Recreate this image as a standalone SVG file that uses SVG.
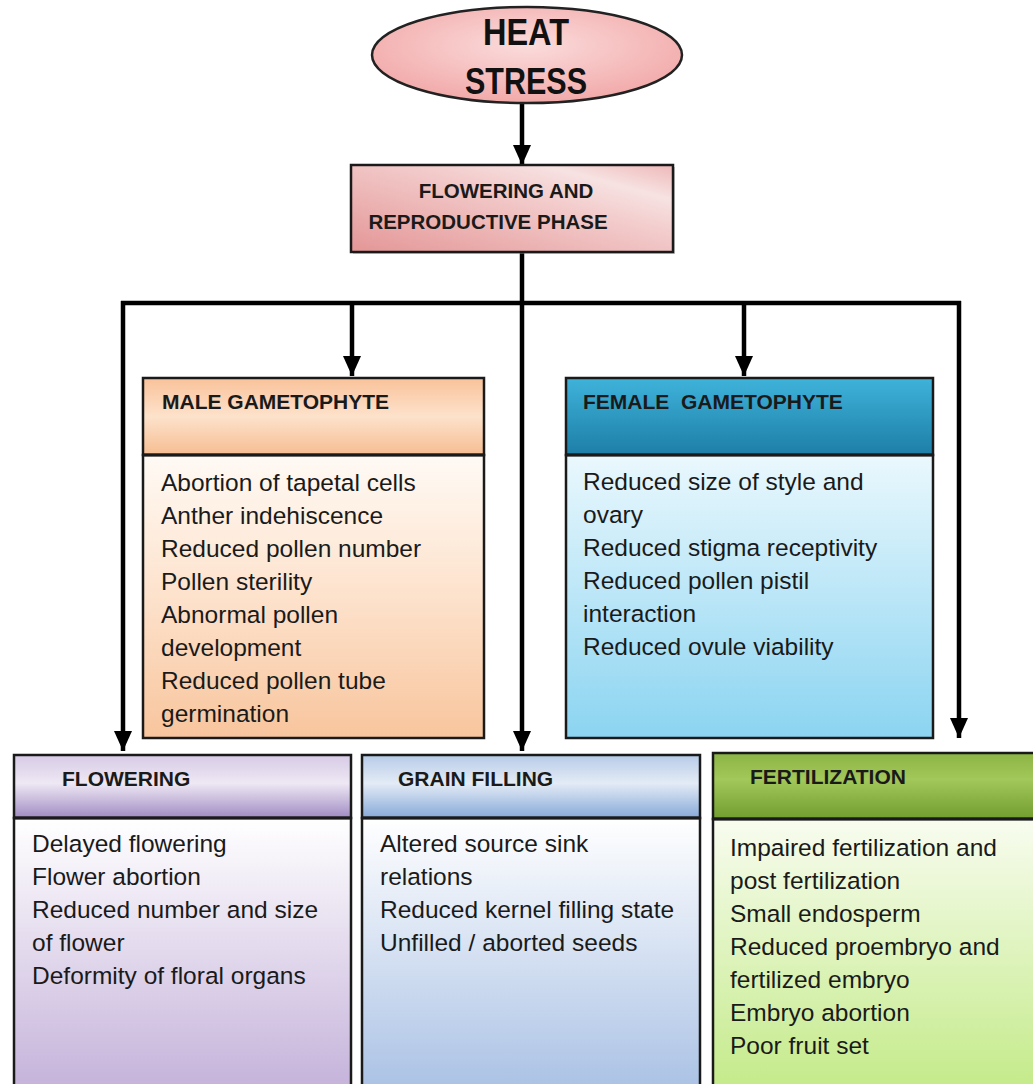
<svg xmlns="http://www.w3.org/2000/svg" width="1033" height="1084" viewBox="0 0 1033 1084">
<defs>
<style>
.box{stroke:#1a1a1a;stroke-width:2.5}
.div{stroke:#1a1a1a;stroke-width:3}
.hd{font-family:"Liberation Sans",Arial,sans-serif;font-weight:bold;font-size:21px;fill:#1a1a1a}
.ph{font-family:"Liberation Sans",Arial,sans-serif;font-weight:bold;font-size:20.5px;fill:#1a1a1a}
.bd{font-family:"Liberation Sans",Arial,sans-serif;font-size:24.5px;fill:#1a1a1a}
.big{font-family:"Liberation Sans",Arial,sans-serif;font-weight:bold;font-size:37px;fill:#111}
.con{stroke:#000;stroke-width:4.5;fill:none}
.arr{stroke:#000;stroke-width:4.5;fill:none;marker-end:url(#ah)}
</style>
<marker id="ah" markerUnits="userSpaceOnUse" markerWidth="20" markerHeight="18" refX="20" refY="9" orient="auto">
<path d="M0,0 L20,9 L0,18 z" fill="#000"/>
</marker>
<radialGradient id="gEll" cx="0.5" cy="0.4" r="0.6">
<stop offset="0" stop-color="#fbdcdc"/><stop offset="1" stop-color="#f2a9a9"/>
</radialGradient>
<linearGradient id="gPhase" x1="0" y1="1" x2="1" y2="0">
<stop offset="0" stop-color="#e49696"/><stop offset="0.6" stop-color="#f3cccc"/><stop offset="0.8" stop-color="#f7e2e2"/><stop offset="1" stop-color="#eeb8b8"/>
</linearGradient>
<linearGradient id="gMaleH" x1="0" y1="0" x2="0" y2="1">
<stop offset="0" stop-color="#f9c29a"/><stop offset="0.5" stop-color="#fde2cb"/><stop offset="1" stop-color="#f6bd92"/>
</linearGradient>
<linearGradient id="gMaleB" x1="0" y1="0" x2="0" y2="1">
<stop offset="0" stop-color="#fffaf5"/><stop offset="0.5" stop-color="#fde2cc"/><stop offset="1" stop-color="#f8c59d"/>
</linearGradient>
<linearGradient id="gFemH" x1="0" y1="0" x2="0" y2="1">
<stop offset="0" stop-color="#3fb3db"/><stop offset="1" stop-color="#1d7ea6"/>
</linearGradient>
<linearGradient id="gFemB" x1="0" y1="0" x2="0" y2="1">
<stop offset="0" stop-color="#eaf8fd"/><stop offset="1" stop-color="#8bd4f1"/>
</linearGradient>
<linearGradient id="gFlwH" x1="0" y1="0" x2="0" y2="1">
<stop offset="0" stop-color="#d7cae6"/><stop offset="0.45" stop-color="#eee8f4"/><stop offset="1" stop-color="#a08bc3"/>
</linearGradient>
<linearGradient id="gFlwB" x1="0" y1="0" x2="0" y2="1">
<stop offset="0" stop-color="#ffffff"/><stop offset="1" stop-color="#c3b0d9"/>
</linearGradient>
<linearGradient id="gGrnH" x1="0" y1="0" x2="0" y2="1">
<stop offset="0" stop-color="#b7cbe8"/><stop offset="0.45" stop-color="#e3ebf6"/><stop offset="1" stop-color="#87a9d8"/>
</linearGradient>
<linearGradient id="gGrnB" x1="0" y1="0" x2="0" y2="1">
<stop offset="0" stop-color="#ffffff"/><stop offset="1" stop-color="#a8c0e4"/>
</linearGradient>
<linearGradient id="gFerH" x1="0" y1="0" x2="0" y2="1">
<stop offset="0" stop-color="#8cb544"/><stop offset="0.4" stop-color="#a2c75a"/><stop offset="1" stop-color="#719e2e"/>
</linearGradient>
<linearGradient id="gFerB" x1="0" y1="0" x2="0" y2="1">
<stop offset="0" stop-color="#f8fcef"/><stop offset="1" stop-color="#c2ea86"/>
</linearGradient>
</defs>
<rect width="1033" height="1084" fill="#ffffff"/>

<g id="connectors">
<line class="arr" x1="522" y1="103" x2="522" y2="165"/>
<line class="con" x1="522" y1="253" x2="522" y2="303"/>
<line class="con" x1="121" y1="303" x2="961" y2="303"/>
<line class="arr" x1="123" y1="301" x2="123" y2="751"/>
<line class="arr" x1="522" y1="303" x2="522" y2="751"/>
<line class="arr" x1="959" y1="301" x2="959" y2="738"/>
<line class="arr" x1="352" y1="303" x2="352" y2="376"/>
<line class="arr" x1="744" y1="303" x2="744" y2="376"/>
</g>

<g id="heat-stress">
<ellipse cx="527" cy="55" rx="155" ry="48" fill="url(#gEll)" stroke="#222" stroke-width="2.5"/>
<text class="big" x="526" y="45" text-anchor="middle" textLength="86" lengthAdjust="spacingAndGlyphs">HEAT</text>
<text class="big" x="526" y="94" text-anchor="middle" textLength="122" lengthAdjust="spacingAndGlyphs">STRESS</text>
</g>

<g id="flowering-reproductive-phase">
<rect x="353" y="167" width="322" height="87" fill="#999" opacity="0.5"/>
<rect class="box" x="351" y="165" width="322" height="87" fill="url(#gPhase)"/>
<text class="ph" x="506" y="198" text-anchor="middle">FLOWERING AND</text>
<text class="ph" x="488" y="229" text-anchor="middle">REPRODUCTIVE PHASE</text>
</g>

<g id="male-gametophyte">
<rect class="box" x="143" y="378" width="341" height="77" fill="url(#gMaleH)"/>
<rect class="box" x="143" y="455" width="341" height="283" fill="url(#gMaleB)"/>
<line class="div" x1="143" y1="455" x2="484" y2="455"/>
<text class="hd" x="162" y="409">MALE GAMETOPHYTE</text>
<text class="bd" x="161" y="491">Abortion of tapetal cells</text>
<text class="bd" x="161" y="524">Anther indehiscence</text>
<text class="bd" x="161" y="557">Reduced pollen number</text>
<text class="bd" x="161" y="590">Pollen sterility</text>
<text class="bd" x="161" y="623">Abnormal pollen</text>
<text class="bd" x="161" y="656">development</text>
<text class="bd" x="161" y="689">Reduced pollen tube</text>
<text class="bd" x="161" y="722">germination</text>
</g>

<g id="female-gametophyte">
<rect class="box" x="566" y="378" width="367" height="77" fill="url(#gFemH)"/>
<rect class="box" x="566" y="455" width="367" height="283" fill="url(#gFemB)"/>
<line class="div" x1="566" y1="455" x2="933" y2="455"/>
<text class="hd" x="583" y="409" xml:space="preserve">FEMALE  GAMETOPHYTE</text>
<text class="bd" x="583" y="490">Reduced size of style and</text>
<text class="bd" x="583" y="523">ovary</text>
<text class="bd" x="583" y="556">Reduced stigma receptivity</text>
<text class="bd" x="583" y="589">Reduced pollen pistil</text>
<text class="bd" x="583" y="622">interaction</text>
<text class="bd" x="583" y="655">Reduced ovule viability</text>
</g>

<g id="flowering">
<rect class="box" x="14" y="755" width="337" height="63" fill="url(#gFlwH)"/>
<rect class="box" x="14" y="818" width="337" height="280" fill="url(#gFlwB)"/>
<line class="div" x1="14" y1="818" x2="351" y2="818"/>
<text class="hd" x="62" y="786">FLOWERING</text>
<text class="bd" x="32" y="852">Delayed flowering</text>
<text class="bd" x="32" y="885">Flower abortion</text>
<text class="bd" x="32" y="918">Reduced number and size</text>
<text class="bd" x="32" y="951">of flower</text>
<text class="bd" x="32" y="984">Deformity of floral organs</text>
</g>

<g id="grain-filling">
<rect class="box" x="362" y="755" width="338" height="63" fill="url(#gGrnH)"/>
<rect class="box" x="362" y="818" width="338" height="280" fill="url(#gGrnB)"/>
<line class="div" x1="362" y1="818" x2="700" y2="818"/>
<text class="hd" x="398" y="786">GRAIN FILLING</text>
<text class="bd" x="380" y="852">Altered source sink</text>
<text class="bd" x="380" y="885">relations</text>
<text class="bd" x="380" y="918">Reduced kernel filling state</text>
<text class="bd" x="380" y="951">Unfilled / aborted seeds</text>
</g>

<g id="fertilization">
<rect class="box" x="713" y="753" width="330" height="66" fill="url(#gFerH)"/>
<rect class="box" x="713" y="819" width="330" height="280" fill="url(#gFerB)"/>
<line class="div" x1="713" y1="819" x2="1043" y2="819"/>
<text class="hd" x="750" y="784">FERTILIZATION</text>
<text class="bd" x="730" y="856">Impaired fertilization and</text>
<text class="bd" x="730" y="889">post fertilization</text>
<text class="bd" x="730" y="922">Small endosperm</text>
<text class="bd" x="730" y="955">Reduced proembryo and</text>
<text class="bd" x="730" y="988">fertilized embryo</text>
<text class="bd" x="730" y="1021">Embryo abortion</text>
<text class="bd" x="730" y="1054">Poor fruit set</text>
</g>
</svg>
